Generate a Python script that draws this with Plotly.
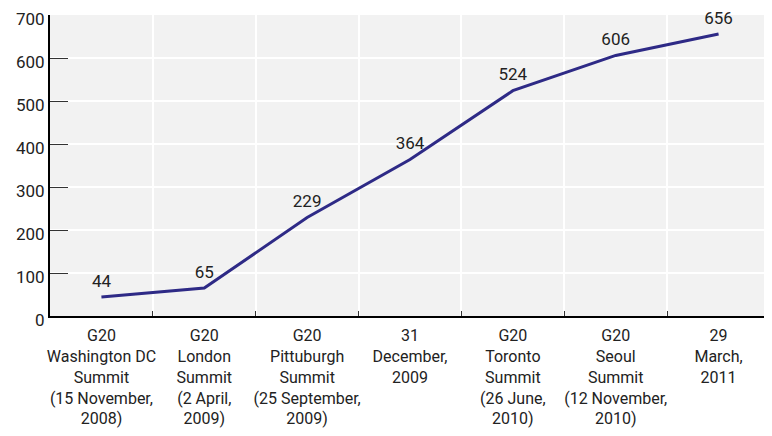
import plotly.graph_objects as go

categories = [
    "G20<br>Washington DC<br>Summit<br>(15 November,<br>2008)",
    "G20<br>London<br>Summit<br>(2 April,<br>2009)",
    "G20<br>Pittuburgh<br>Summit<br>(25 September,<br>2009)",
    "31<br>December,<br>2009",
    "G20<br>Toronto<br>Summit<br>(26 June,<br>2010)",
    "G20<br>Seoul<br>Summit<br>(12 November,<br>2010)",
    "29<br>March,<br>2011",
]
values = [44, 65, 229, 364, 524, 606, 656]

FONT = "Liberation Sans Narrow, Roboto, Arial"

fig = go.Figure()
fig.add_trace(go.Scatter(
    x=categories, y=values, mode="lines+markers+text",
    line=dict(color="#2e2a86", width=3),
    marker=dict(size=8, opacity=0),
    text=[str(v) for v in values], textposition="top center",
    textfont=dict(family=FONT, size=17, color="#222222"),
    cliponaxis=False, showlegend=False,
))
fig.update_layout(
    width=764, height=428,
    margin=dict(l=42, r=2, t=7, b=120),
    paper_bgcolor="white", plot_bgcolor="#f2f2f2",
    font=dict(family=FONT, size=17, color="#222222"),
)
fig.update_xaxes(
    type="category", tickson="boundaries", tickangle=0, automargin=False,
    range=[-0.5, len(categories) - 0.5],
    showgrid=True, gridcolor="white", gridwidth=2,
    showline=True, linecolor="black", linewidth=2,
    ticks="inside", ticklen=5, tickcolor="#333333",
    ticklabelstandoff=4,
    tickfont=dict(family=FONT, size=16),
)
fig.update_yaxes(
    range=[0, 700], dtick=100, automargin=False,
    ticklabeloverflow="allow", ticklabelshift=4,
    showgrid=True, gridcolor="white", gridwidth=2,
    zeroline=False,
    showline=True, linecolor="black", linewidth=2,
    ticks="inside", ticklen=18, tickcolor="#333333",
    tickfont=dict(family=FONT, size=17),
)
fig.write_html("out.html")
